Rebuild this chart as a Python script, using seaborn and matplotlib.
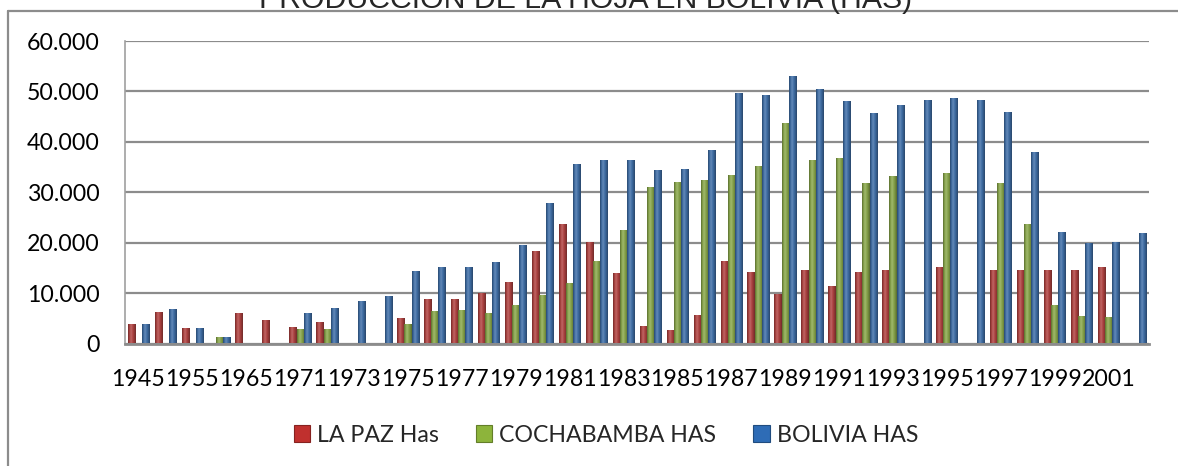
#!/usr/bin/env python3
"""
Produccion de la hoja de coca en Bolivia (hectareas), 1945-2002
Excel-style clustered bar chart rebuilt with seaborn
"""

import numpy as np
import pandas as pd
import matplotlib
matplotlib.use('Agg')
import matplotlib.pyplot as plt
import seaborn as sns
from matplotlib.colors import LinearSegmentedColormap, to_rgb
from matplotlib.lines import Line2D
from matplotlib.patches import Patch

nan = np.nan

# categories (one group per year)
years = ['1945', '1950', '1955', '1960', '1965', '1970'] + [str(y) for y in range(1971, 2003)]

# series values (hectares)
la_paz = [3650, 6050, 2900, nan, 5900, 4500,
          3050, 4050, nan, nan, 4850, 8600, 8600, 9800, 11950, 18100,
          23450, 19850, 13700, 3200, 2400, 5550, 16150, 13900, 9550, 14350,
          11150, 13950, 14350, nan, 14900, nan, 14350, 14350, 14350, 14350,
          14900, nan]
cochabamba = [nan, nan, nan, 1000, nan, nan,
              2700, 2700, nan, nan, 3600, 6200, 6400, 5950, 7400, 9400,
              11750, 16100, 22250, 30800, 31800, 32150, 33150, 34950, 43450, 36100,
              36500, 31550, 32950, nan, 33700, nan, 31550, 23500, 7400, 5200,
              5000, nan]
bolivia = [3650, 6650, 2900, 1000, nan, nan,
           5850, 6850, 8250, 9250, 14200, 15000, 15000, 15900, 19300, 27600,
           35350, 36150, 36150, 34150, 34400, 38100, 49400, 49000, 52950, 50350,
           47950, 45600, 47150, 48150, 48550, 48150, 45800, 37850, 21850, 19800,
           19900, 21650]

series_names = ['LA PAZ Has', 'COCHABAMBA HAS', 'BOLIVIA HAS']
series_colors = ['#C0302E', '#8DB43B', '#2E6CB6']
y_ticks = [0, 10000, 20000, 30000, 40000, 50000, 60000]
title = 'PRODUCCION DE LA HOJA EN BOLIVIA (HAS)'

W, H = 1178, 466
GRAY = '#8c8c8c'


def cylinder_cmap(color):
    """dark edge -> highlight -> dark edge, like Excel's shaded bars"""
    base = np.array(to_rgb(color))
    dark = base * 0.62
    light = np.clip(base + (1 - base) * 0.22, 0, 1)
    return LinearSegmentedColormap.from_list('', [dark, base, light, base, base * 0.85, dark])


def main():
    sns.set_style('white')
    plt.rcParams['font.family'] = ['Lato', 'DejaVu Sans']

    df = pd.DataFrame({'year': years,
                       series_names[0]: la_paz,
                       series_names[1]: cochabamba,
                       series_names[2]: bolivia})
    long_df = df.melt(id_vars='year', var_name='serie', value_name='has').dropna()

    fig = plt.figure(figsize=(W / 100, H / 100), dpi=100)
    ax = fig.add_axes([125 / W, 1 - 343.5 / H, (1149 - 125) / W, (343.5 - 41) / H])

    sns.barplot(data=long_df, x='year', y='has', hue='serie',
                order=years, hue_order=series_names, palette=series_colors,
                width=0.8, errorbar=None, legend=False, ax=ax)

    # overlay a horizontal gradient on every bar
    grad = np.linspace(0, 1, 64).reshape(1, -1)
    cmaps = {tuple(np.round(to_rgb(c), 3)): cylinder_cmap(c) for c in series_colors}
    for bar in list(ax.patches):
        h = bar.get_height()
        if not h > 0:
            continue
        key = tuple(np.round(bar.get_facecolor()[:3], 3))
        cmap = cmaps.get(key)
        if cmap is None:
            cmap = cylinder_cmap(bar.get_facecolor())
        x0 = bar.get_x()
        ax.imshow(grad, extent=[x0, x0 + bar.get_width(), 0, h], cmap=cmap,
                  aspect='auto', interpolation='bicubic', zorder=2)
        bar.set_visible(False)

    ax.set_xlim(-0.5, len(years) - 0.5)
    ax.set_ylim(0, 60000)
    ax.set_yticks(y_ticks)
    ax.set_yticklabels([f'{v:,.0f}'.replace(',', '.') for v in y_ticks])
    ax.set_xticks(range(0, len(years), 2))
    ax.set_xticklabels(years[::2])
    ax.set_xlabel('')
    ax.set_ylabel('')
    ax.tick_params(axis='y', length=0, pad=18.4, labelsize=16.7, labelcolor='black')
    ax.tick_params(axis='x', length=0, pad=18.5, labelsize=16.7, labelcolor='black')

    ax.set_axisbelow(True)
    ax.yaxis.grid(True, color=GRAY, lw=1.6)
    ax.xaxis.grid(False)
    for side in ['top', 'right']:
        ax.spines[side].set_visible(False)
    ax.spines['left'].set_color('#a0a0a0')
    ax.spines['left'].set_linewidth(1.2)
    ax.spines['bottom'].set_color(GRAY)
    ax.spines['bottom'].set_linewidth(2)

    # legend below the plot
    handles = [Patch(facecolor=c, edgecolor=np.array(to_rgb(c)) * 0.7, lw=0.8) for c in series_colors]
    fig.legend(handles, series_names, loc='center', ncol=3, frameon=False,
               bbox_to_anchor=(606 / W, 1 - 435 / H), fontsize=16.7,
               handlelength=0.7, handleheight=0.7, handletextpad=0.3,
               columnspacing=1.6)

    # title, cut at the top edge as in the original
    fig.text(0.497, 1 - 7.5 / H, title, ha='center', va='baseline',
             fontsize=21.8, family=['Liberation Sans', 'DejaVu Sans'])

    # chart area border (left and top only visible)
    fig.add_artist(Line2D([7.5 / W, 7.5 / W], [0, 1 - 11 / H], transform=fig.transFigure,
                          color=GRAY, lw=1.6))
    fig.add_artist(Line2D([7.5 / W, 1], [1 - 11 / H, 1 - 11 / H], transform=fig.transFigure,
                          color=GRAY, lw=1.6))

    fig.savefig('out.png', dpi=100)


if __name__ == '__main__':
    main()
